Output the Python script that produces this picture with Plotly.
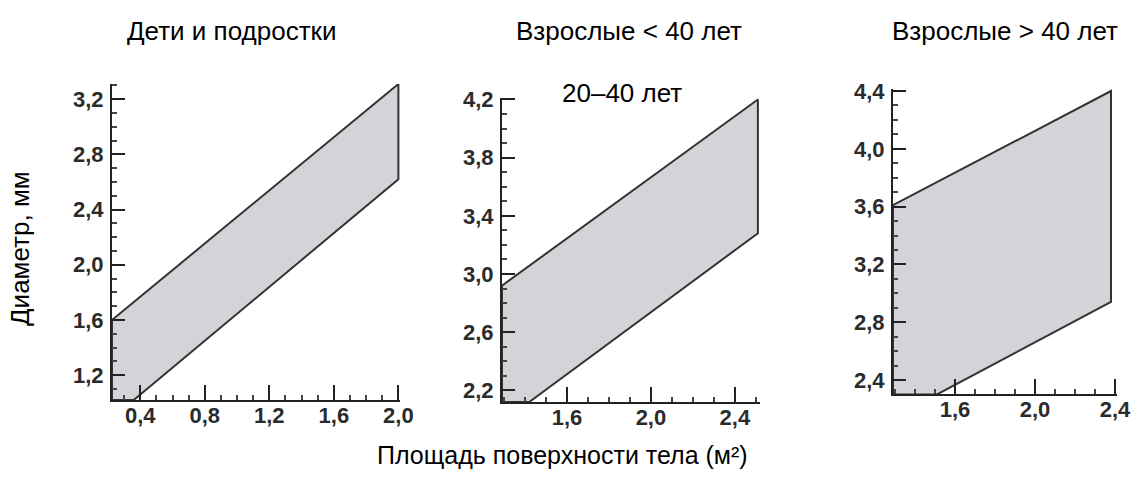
import plotly.graph_objects as go

W, H = 1141, 477

# ---- data ----
titles = ["Дети и подростки", "Взрослые < 40 лет", "Взрослые > 40 лет"]
subtitle = "20–40 лет"
y_title = "Диаметр, мм"
x_title = "Площадь поверхности тела (м²)"

# panel 1: children
p1_upper_x = [0.225, 2.0]
p1_upper_y = [1.6, 3.31]
p1_lower_x = [0.36, 2.0]
p1_lower_y = [1.02, 2.62]

# panel 2: adults < 40
p2_upper_x = [1.29, 2.51]
p2_upper_y = [2.92, 4.2]
p2_lower_x = [1.42, 2.51]
p2_lower_y = [2.12, 3.28]

# panel 3: adults > 40
p3_upper_x = [1.29, 2.38]
p3_upper_y = [3.61, 4.4]
p3_lower_x = [1.51, 2.38]
p3_lower_y = [2.30, 2.94]

panels = [
    dict(ux=p1_upper_x, uy=p1_upper_y, lx=p1_lower_x, ly=p1_lower_y,
         xr=[0.225, 2.01], yr=[1.02, 3.31], xd=[112, 400], yd=[400, 84],
         xt0=0.0, yt0=0.0),
    dict(ux=p2_upper_x, uy=p2_upper_y, lx=p2_lower_x, ly=p2_lower_y,
         xr=[1.29, 2.52], yr=[2.12, 4.21], xd=[502, 760], yd=[402, 98],
         xt0=0.0, yt0=0.2),
    dict(ux=p3_upper_x, uy=p3_upper_y, lx=p3_lower_x, ly=p3_lower_y,
         xr=[1.29, 2.41], yr=[2.303, 4.414], xd=[893, 1117], yd=[394, 89],
         xt0=0.0, yt0=0.0),
]

fig = go.Figure()
tickfont = dict(family="Liberation Sans", size=22, color="#2b2b2b", weight="bold")

for i, p in enumerate(panels):
    n = "" if i == 0 else str(i + 1)
    xs = [p["ux"][0]] + p["ux"] + p["lx"][::-1] + [p["ux"][0]]
    ys = [p["ly"][0]] + p["uy"] + p["ly"][::-1] + [p["ly"][0]]
    fig.add_trace(go.Scatter(
        x=xs, y=ys, mode="lines", fill="toself", fillcolor="#d4d4d8",
        line=dict(color="#333333", width=2), hoverinfo="skip",
        showlegend=False, xaxis="x" + n, yaxis="y" + n))
    axcommon = dict(showgrid=False, zeroline=False, showline=True,
                    linecolor="#222222", linewidth=2, ticks="inside",
                    tickcolor="#222222", tickwidth=2, tickformat=".1f",
                    dtick=0.4, tickfont=tickfont, fixedrange=True,
                    automargin=False)
    fig.layout["xaxis" + n] = dict(
        **axcommon, range=p["xr"], tick0=p["xt0"], ticklen=15,
        domain=[p["xd"][0] / W, p["xd"][1] / W], anchor="y" + n,
        ticklabelstandoff=-5,
        minor=dict(dtick=0.1, ticks="inside", ticklen=5, tickwidth=1.5,
                   tickcolor="#444444"))
    fig.layout["yaxis" + n] = dict(
        **axcommon, range=p["yr"], tick0=p["yt0"], ticklen=13,
        domain=[1 - p["yd"][0] / H, 1 - p["yd"][1] / H], anchor="x" + n,
        ticklabelstandoff=2,
        minor=dict(dtick=0.1, ticks="inside", ticklen=5, tickwidth=1.5,
                   tickcolor="#444444"))

title_x = [231, 629, 1005]
ann = []
for t, x in zip(titles, title_x):
    ann.append(dict(text=t, x=x / W, y=1 - 31 / H, xref="paper", yref="paper",
                    showarrow=False, xanchor="center", yanchor="middle",
                    font=dict(family="Liberation Sans", size=26, color="black")))
ann.append(dict(text=subtitle, x=622 / W, y=1 - 93 / H, xref="paper", yref="paper",
                showarrow=False, xanchor="center", yanchor="middle",
                bgcolor="white", borderpad=4,
                font=dict(family="Liberation Sans", size=26, color="black")))
ann.append(dict(text=y_title, x=20 / W, y=1 - 249 / H, xref="paper", yref="paper",
                showarrow=False, textangle=-90, xanchor="center", yanchor="middle",
                font=dict(family="Liberation Sans", size=26, color="black")))
ann.append(dict(text=x_title, x=562 / W, y=1 - 455 / H, xref="paper", yref="paper",
                showarrow=False, xanchor="center", yanchor="middle",
                font=dict(family="Liberation Sans", size=25, color="black")))

fig.update_layout(
    width=W, height=H,
    margin=dict(l=0, r=0, t=0, b=0, pad=0, autoexpand=False),
    paper_bgcolor="white", plot_bgcolor="white",
    separators=", ", annotations=ann, showlegend=False)

fig.write_html("out.html", config={"displayModeBar": False},
               post_script="document.body.style.margin='0';"
                           "document.body.style.overflow='hidden';")
